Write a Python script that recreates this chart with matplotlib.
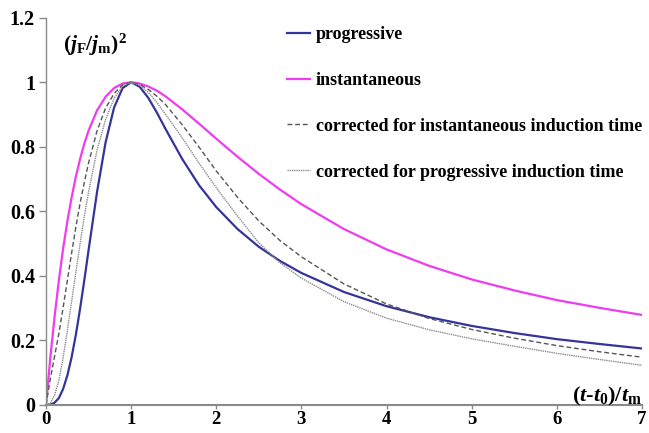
import matplotlib
matplotlib.use("Agg")
import matplotlib.pyplot as plt

plt.rcParams["mathtext.fontset"] = "custom"
plt.rcParams["mathtext.rm"] = "Liberation Serif:bold"
plt.rcParams["mathtext.it"] = "Liberation Serif:italic:bold"
plt.rcParams["mathtext.bf"] = "Liberation Serif:bold"

# dimensionless time (t-t0)/tm
t_red = [0, 0.05, 0.1, 0.15, 0.2, 0.25, 0.3, 0.35, 0.4, 0.45, 0.5, 0.6, 0.7,
         0.8, 0.9, 1.0, 1.1, 1.2, 1.3, 1.4, 1.6, 1.8, 2.0, 2.25, 2.5, 2.75,
         3.0, 3.5, 4.0, 4.5, 5.0, 5.5, 6.0, 6.5, 7.0]

progressive = [0, 0.001, 0.007, 0.021, 0.049, 0.091, 0.147, 0.217, 0.298,
               0.387, 0.480, 0.661, 0.814, 0.922, 0.982, 1.0, 0.986, 0.952,
               0.907, 0.857, 0.762, 0.680, 0.613, 0.545, 0.490, 0.446,
               0.409, 0.350, 0.306, 0.272, 0.245, 0.223, 0.204, 0.189, 0.175]

instantaneous = [0, 0.145, 0.272, 0.384, 0.483, 0.568, 0.642, 0.707, 0.762,
                 0.810, 0.850, 0.913, 0.955, 0.982, 0.996, 1.0, 0.996, 0.987,
                 0.974, 0.957, 0.916, 0.871, 0.825, 0.769, 0.716, 0.667,
                 0.622, 0.545, 0.482, 0.431, 0.389, 0.355, 0.325, 0.301, 0.279]

corr_inst = [0, 0.08, 0.15, 0.22, 0.30, 0.385, 0.47, 0.55, 0.625, 0.69,
             0.75, 0.85, 0.92, 0.965, 0.992, 1.0, 0.993, 0.978, 0.957, 0.932,
             0.868, 0.798, 0.725, 0.643, 0.570, 0.509, 0.459, 0.375, 0.313,
             0.268, 0.234, 0.207, 0.184, 0.165, 0.148]

corr_prog = [0, 0.006, 0.03, 0.075, 0.145, 0.23, 0.32, 0.41, 0.50, 0.585,
             0.66, 0.79, 0.885, 0.95, 0.988, 1.0, 0.990, 0.969, 0.938, 0.902,
             0.828, 0.748, 0.673, 0.585, 0.502, 0.440, 0.393, 0.320, 0.269,
             0.233, 0.205, 0.182, 0.160, 0.141, 0.123]

labels = ["progressive", "instantaneous",
          "corrected for instantaneous induction time",
          "corrected for progressive induction time"]

xticks = [0, 1, 2, 3, 4, 5, 6, 7]
yticks = [0, 0.2, 0.4, 0.6, 0.8, 1.0, 1.2]
ytick_labels = ["0", "0.2", "0.4", "0.6", "0.8", "1", "1.2"]

fig = plt.figure(figsize=(6.49, 4.33), dpi=100)
ax = fig.add_axes([0.0709, 0.0647, 0.9183, 0.8945])

ax.plot(t_red, progressive, color="#34349a", lw=1.6, label=labels[0])
ax.plot(t_red, instantaneous, color="#ee3cee", lw=1.6, label=labels[1])
ax.plot(t_red, corr_inst, color="#555555", lw=1.0, ls=(0, (3.5, 2)),
        label=labels[2])
ax.plot(t_red, corr_prog, color="#8c8c8c", lw=1.0, ls=(0, (1, 0.6)),
        label=labels[3])

ax.set_xlim(0, 7)
ax.set_ylim(0, 1.2)
ax.set_xticks(xticks)
ax.set_yticks(yticks)
ax.set_yticklabels(ytick_labels)

for s in ["top", "right"]:
    ax.spines[s].set_visible(False)
ax.spines["left"].set_color("#8a8a8a")
ax.spines["left"].set_linewidth(1.0)
ax.spines["bottom"].set_color("#8a8a8a")
ax.spines["bottom"].set_linewidth(1.5)

ax.tick_params(axis="y", direction="out", length=5, width=1, color="#8a8a8a",
               pad=3)
ax.tick_params(axis="x", direction="out", length=3, width=1, color="#8a8a8a",
               pad=1)
for lab in ax.get_yticklabels():
    lab.set_fontfamily("Liberation Serif")
    lab.set_fontweight("bold")
    lab.set_fontsize(14.5)
for lab in ax.get_xticklabels():
    lab.set_fontfamily("Liberation Serif")
    lab.set_fontweight("bold")
    lab.set_fontsize(13.5)

leg = ax.legend(loc="upper left", bbox_to_anchor=(0.442, 0.94),
                bbox_transform=fig.transFigure, frameon=False,
                handlelength=1.3, handletextpad=0.3, labelspacing=1.6,
                borderpad=0, borderaxespad=0,
                prop={"family": "Liberation Serif", "weight": "bold",
                      "size": 13})

fig.text(63 / 649, 1 - 45 / 433, r"$(\mathit{j}_\mathrm{F}/\mathit{j}_\mathrm{m})^2$",
         ha="left", va="center", fontsize=15.5,
         fontfamily="Liberation Serif", fontweight="bold")
fig.text(572 / 649, 1 - 396 / 433,
         r"($\mathit{t}$-$\mathit{t}_\mathrm{0}$)/$\mathit{t}_\mathrm{m}$",
         ha="left", va="center", fontsize=16,
         fontfamily="Liberation Serif", fontweight="bold")

fig.savefig("out.png", dpi=100)
